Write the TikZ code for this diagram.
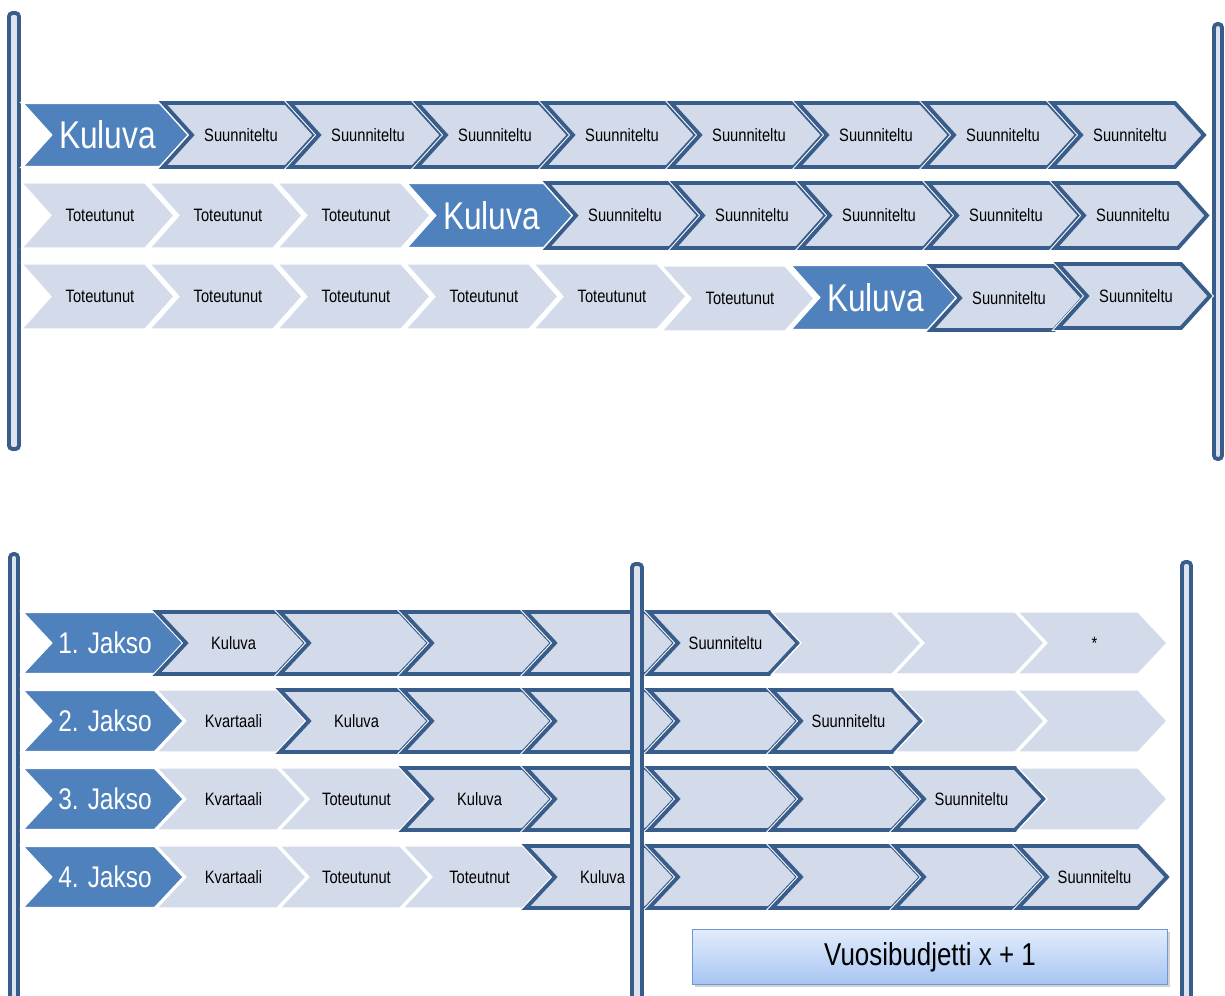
\documentclass[tikz,border=0pt]{standalone}
\usepackage{fontspec}
\setmainfont{Liberation Sans}[FakeStretch=0.82]
\usetikzlibrary{shadows}
\definecolor{chevdark}{HTML}{385D8A}
\definecolor{chevblue}{HTML}{4F81BD}
\definecolor{chevlight}{HTML}{D3DAE9}
\definecolor{barlight}{HTML}{DCE3EF}
\definecolor{boxtop}{HTML}{E2ECFC}
\definecolor{boxbot}{HTML}{A7C5F2}
\definecolor{boxline}{HTML}{6F98D3}
\tikzset{
  planned/.style={fill=chevlight, draw=chevdark, line width=2.2pt, preaction={draw=white, line width=3.4pt}},
  done/.style={fill=chevlight, draw=white, line width=0.7pt},
  current/.style={fill=chevblue, draw=white, line width=1.4pt},
  jakso/.style={current},
  planned label/.style={font=\fontsize{10.2pt}{12pt}\selectfont},
  done label/.style={planned label},
  current label/.style={text=white, font=\fontsize{22pt}{26pt}\selectfont},
  jakso label/.style={text=white, font=\fontsize{17pt}{20pt}\selectfont},
  timebar/.style={fill=barlight, draw=chevdark, line width=2.2pt, rounded corners=2pt},
  budgetbox/.style={draw=boxline, line width=0.8pt, top color=boxtop, bottom color=boxbot,
    minimum width=9.5cm, minimum height=1.1cm, font=\fontsize{18pt}{21pt}\selectfont,
    drop shadow={opacity=0.35, shadow xshift=1.5pt, shadow yshift=-1.5pt}}
}
% tip depth of every chevron (px)
\def\chevd{29}
% \chev{style}{name}{left}{top}{width}{height}{text}
\newcommand{\chev}[7]{%
  \path[#1] (#3,#4) -- ++(#5-\chevd,0) -- ++(\chevd,#6/2) -- ++(-\chevd,#6/2)
    -- ++(-#5+\chevd,0) -- ++(\chevd,-#6/2) -- cycle;
  \node[#1 label, inner sep=0pt] (#2) at (#3+#5/2+2,#4+#6/2) {#7};
}

\begin{document}
\begin{tikzpicture}[x=0.02cm, y=-0.02cm]
  \useasboundingbox (0,0) rectangle (1225,996);

  % top: three years
  \draw[timebar] (9,13) rectangle (19,449);
  \draw[timebar] (1214,24) rectangle (1222,459);

  \chev{current}{t1a}{22}{103}{167}{64}{Kuluva}
  \chev{planned}{t1b}{163}{103}{152}{64}{Suunniteltu}
  \chev{planned}{t1c}{290}{103}{152}{64}{Suunniteltu}
  \chev{planned}{t1d}{417}{103}{152}{64}{Suunniteltu}
  \chev{planned}{t1e}{544}{103}{152}{64}{Suunniteltu}
  \chev{planned}{t1f}{671}{103}{152}{64}{Suunniteltu}
  \chev{planned}{t1g}{798}{103}{152}{64}{Suunniteltu}
  \chev{planned}{t1h}{925}{103}{152}{64}{Suunniteltu}
  \chev{planned}{t1i}{1052}{103}{152}{64}{Suunniteltu}

  \chev{done}{t2a}{22}{183}{152}{65}{Toteutunut}
  \chev{done}{t2b}{150}{183}{152}{65}{Toteutunut}
  \chev{done}{t2c}{278}{183}{152}{65}{Toteutunut}
  \chev{current}{t2d}{406}{183}{167}{65}{Kuluva}
  \chev{planned}{t2e}{547}{183}{152}{65}{Suunniteltu}
  \chev{planned}{t2f}{674}{183}{152}{65}{Suunniteltu}
  \chev{planned}{t2g}{801}{183}{152}{65}{Suunniteltu}
  \chev{planned}{t2h}{928}{183}{152}{65}{Suunniteltu}
  \chev{planned}{t2i}{1055}{183}{152}{65}{Suunniteltu}

  \chev{done}{t3a}{22}{264}{152}{65}{Toteutunut}
  \chev{done}{t3b}{150}{264}{152}{65}{Toteutunut}
  \chev{done}{t3c}{278}{264}{152}{65}{Toteutunut}
  \chev{done}{t3d}{406}{264}{152}{65}{Toteutunut}
  \chev{done}{t3e}{534}{264}{152}{65}{Toteutunut}
  \chev{done}{t3f}{662}{266}{152}{65}{Toteutunut}
  \chev{current}{t3g}{790}{265}{167}{65}{Kuluva}
  \chev{planned}{t3h}{931}{266}{152}{64}{Suunniteltu}
  \chev{planned}{t3i}{1058}{264}{152}{64}{Suunniteltu}

  % bottom: four periods
  \draw[timebar] (10,554) rectangle (18,1010);
  \draw[timebar] (1182,562) rectangle (1191,1010);

  \chev{jakso}{b1a}{22}{612}{162}{62}{1. Jakso}
  \chev{planned}{b1b}{157}{612}{149}{62}{Kuluva}
  \chev{planned}{b1c}{280}{612}{149}{62}{}
  \chev{planned}{b1d}{403}{612}{149}{62}{}
  \chev{planned}{b1e}{526}{612}{149}{62}{}
  \chev{planned}{b1f}{649}{612}{149}{62}{Suunniteltu}
  \chev{done}{b1g}{772}{612}{149}{62}{}
  \chev{done}{b1h}{895}{612}{149}{62}{}
  \chev{done}{b1i}{1018}{612}{149}{62}{*}

  \chev{jakso}{b2a}{22}{690}{162}{62}{2. Jakso}
  \chev{done}{b2b}{157}{690}{149}{62}{Kvartaali}
  \chev{planned}{b2c}{280}{690}{149}{62}{Kuluva}
  \chev{planned}{b2d}{403}{690}{149}{62}{}
  \chev{planned}{b2e}{526}{690}{149}{62}{}
  \chev{planned}{b2f}{649}{690}{149}{62}{}
  \chev{planned}{b2g}{772}{690}{149}{62}{Suunniteltu}
  \chev{done}{b2h}{895}{690}{149}{62}{}
  \chev{done}{b2i}{1018}{690}{149}{62}{}

  \chev{jakso}{b3a}{22}{768}{162}{62}{3. Jakso}
  \chev{done}{b3b}{157}{768}{149}{62}{Kvartaali}
  \chev{done}{b3c}{280}{768}{149}{62}{Toteutunut}
  \chev{planned}{b3d}{403}{768}{149}{62}{Kuluva}
  \chev{planned}{b3e}{526}{768}{149}{62}{}
  \chev{planned}{b3f}{649}{768}{149}{62}{}
  \chev{planned}{b3g}{772}{768}{149}{62}{}
  \chev{planned}{b3h}{895}{768}{149}{62}{Suunniteltu}
  \chev{done}{b3i}{1018}{768}{149}{62}{}

  \chev{jakso}{b4a}{22}{846}{162}{62}{4. Jakso}
  \chev{done}{b4b}{157}{846}{149}{62}{Kvartaali}
  \chev{done}{b4c}{280}{846}{149}{62}{Toteutunut}
  \chev{done}{b4d}{403}{846}{149}{62}{Toteutnut}
  \chev{planned}{b4e}{526}{846}{149}{62}{Kuluva}
  \chev{planned}{b4f}{649}{846}{149}{62}{}
  \chev{planned}{b4g}{772}{846}{149}{62}{}
  \chev{planned}{b4h}{895}{846}{149}{62}{}
  \chev{planned}{b4i}{1018}{846}{149}{62}{Suunniteltu}

  \draw[timebar] (632,564) rectangle (642,1010);

  \node[budgetbox] (budget) at (930,957) {Vuosibudjetti x + 1};
\end{tikzpicture}
\end{document}
